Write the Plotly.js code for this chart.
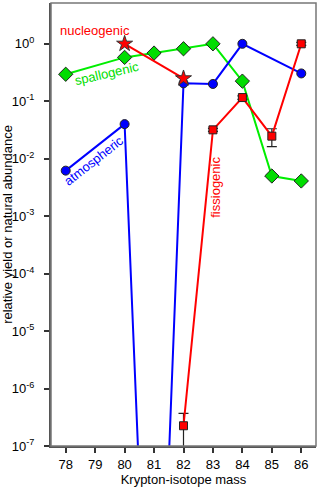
<!DOCTYPE html>
<html>
<head>
<meta charset="utf-8">
<script src="https://cdn.plot.ly/plotly-3.0.1.min.js"></script>
<style>
  body { margin: 0; background: #fff; }
  #plotDiv { width: 320px; height: 491px; }
</style>
</head>
<body>
<div id="plotDiv"></div>
<script>
// Krypton isotopes
let atmMass = [78, 80, 81, 82, 83, 84, 86];
let atmVals = [0.0062, 0.040, 1.6e-14, 0.205, 0.200, 1.0, 0.305];

let spallMass = [78, 80, 81, 82, 83, 84, 85, 86];
let spallVals = [0.295, 0.58, 0.69, 0.82, 1.0, 0.224, 0.005, 0.0041];

let nucMass = [80, 82];
let nucVals = [1.0, 0.25];

let fisMass = [82, 83, 84, 85, 86];
let fisVals = [2.25e-7, 0.0318, 0.116, 0.0247, 1.0];
let fisErr = [1.45e-7, 0.002, 0.008, 0.0085, 0.06];

let yTickVals = [1e-7, 1e-6, 1e-5, 1e-4, 1e-3, 1e-2, 1e-1, 1];
let yTickText = ["10<sup>-7</sup>", "10<sup>-6</sup>", "10<sup>-5</sup>", "10<sup>-4</sup>",
                 "10<sup>-3</sup>", "10<sup>-2</sup>", "10<sup>-1</sup>", "10<sup>0</sup>"];

let fnt = "Liberation Sans, Arial, sans-serif";

let data = [
  {
    x: spallMass, y: spallVals, type: "scatter", mode: "lines+markers",
    line: {color: "#00ee00", width: 2},
    marker: {symbol: "diamond", size: 11, color: "#00dd00", line: {color: "#222", width: 1}}
  },
  {
    x: atmMass, y: atmVals, type: "scatter", mode: "lines+markers",
    line: {color: "#0000ff", width: 2},
    marker: {symbol: "circle", size: 9, color: "#0000ff", line: {color: "#222", width: 1}}
  },
  {
    x: nucMass, y: nucVals, type: "scatter", mode: "lines+markers",
    line: {color: "#ff0000", width: 2},
    marker: {symbol: "star", size: 12, color: "#ff0000", line: {color: "#333", width: 1}}
  },
  {
    x: fisMass, y: fisVals, type: "scatter", mode: "lines+markers",
    line: {color: "#ff0000", width: 2},
    marker: {symbol: "square", size: 8, color: "#ff0000", line: {color: "#222", width: 1}},
    error_y: {type: "data", array: fisErr, visible: true, color: "#222", thickness: 1.2, width: 5}
  }
];

let layout = {
  width: 320,
  height: 491,
  margin: {l: 51, r: 4, t: 3, b: 45},
  showlegend: false,
  paper_bgcolor: "#fff",
  plot_bgcolor: "#fff",
  font: {family: fnt, size: 13, color: "#000"},
  xaxis: {
    range: [77.5, 86.5],
    tickvals: [78, 79, 80, 81, 82, 83, 84, 85, 86],
    ticks: "outside", ticklen: 5, tickwidth: 1.5, tickcolor: "#333",
    showgrid: false, zeroline: false,
    showline: true, linecolor: "#555", linewidth: 2,
    tickfont: {size: 13},
    title: {text: "Krypton-isotope mass", font: {size: 13}, standoff: 4}
  },
  yaxis: {
    type: "log",
    range: [-7, 0.71],
    tickmode: "array", tickvals: yTickVals, ticktext: yTickText,
    ticks: "outside", ticklen: 5, tickwidth: 1.5, tickcolor: "#333",
    ticklabelstandoff: 7,
    showgrid: false, zeroline: false,
    showline: true, linecolor: "#555", linewidth: 2,
    tickfont: {size: 13},
    title: {text: "relative yield or natural abundance", font: {size: 13}, standoff: 0}
  },
  shapes: [
    {type: "rect", xref: "paper", yref: "paper", x0: 0, x1: 1, y0: 0, y1: 1,
     line: {color: "#777", width: 1.5}}
  ],
  annotations: [
    {x: 79.0, y: 0.24, text: "nucleogenic", showarrow: false,
     font: {color: "#ff0000", size: 13}},
    {x: 79.4, y: -0.51, text: "spallogenic", showarrow: false, textangle: -13,
     font: {color: "#00dd00", size: 13}},
    {x: 78.96, y: -2.03, text: "atmospheric", showarrow: false, textangle: -38,
     font: {color: "#0000ff", size: 13}},
    {x: 83.08, y: -2.5, text: "fissiogenic", showarrow: false, textangle: -90,
     font: {color: "#ff0000", size: 13}}
  ]
};

Plotly.newPlot("plotDiv", data, layout, {displayModeBar: false});
</script>
</body>
</html>
